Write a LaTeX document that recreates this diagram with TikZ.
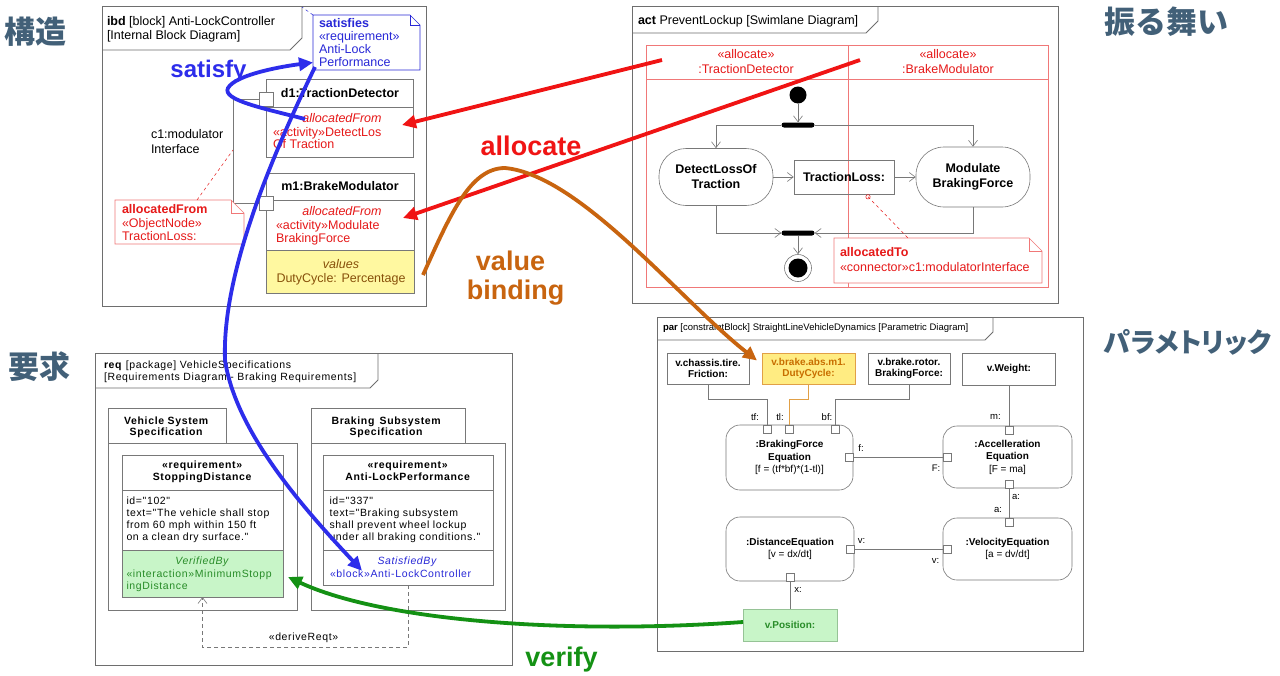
\documentclass[tikz,border=0pt]{standalone}
\usepackage{fontspec}
\setmainfont{Liberation Sans}
\newfontfamily\cjkfont{Noto Sans CJK JP}
\newfontfamily\cjkpfont{Noto Sans CJK JP}[RawFeature=+palt]
\newfontfamily\reqfont{Liberation Sans}[LetterSpace=6]
\usetikzlibrary{arrows.meta,calc}
\definecolor{lg}{RGB}{120,120,120}
\definecolor{fr}{RGB}{110,110,110}
\definecolor{ured}{RGB}{230,25,25}
\definecolor{lanered}{RGB}{240,120,120}
\definecolor{ublue}{RGB}{40,40,215}
\definecolor{ablue}{RGB}{45,45,235}
\definecolor{ared}{RGB}{240,20,20}
\definecolor{aorange}{RGB}{200,100,15}
\definecolor{agreen}{RGB}{20,145,20}
\definecolor{tgreen}{RGB}{40,140,40}
\definecolor{fgreen}{RGB}{200,245,200}
\definecolor{lgreen}{RGB}{150,195,150}
\definecolor{fyellow}{RGB}{255,248,160}
\definecolor{tbrown}{RGB}{135,80,10}
\definecolor{dutyfill}{RGB}{255,236,130}
\definecolor{dutyline}{RGB}{225,160,70}
\definecolor{dutytext}{RGB}{200,110,0}
\definecolor{slate}{RGB}{66,96,120}
\newcommand\dogear[3]{%
  \draw[fill=white,#2] (#1.north west) -- ($(#1.north east)+(-#3,0)$) -- ($(#1.north east)+(0,#3)$) -- (#1.south east) -- (#1.south west) -- cycle;
  \draw[#2] ($(#1.north east)+(-#3,0)$) -- ($(#1.north east)+(-#3,#3)$) -- ($(#1.north east)+(0,#3)$);}
\begin{document}
\begin{tikzpicture}[x=1pt,y=-1pt,
  fs/.style 2 args={font=\fontsize{#1}{#2}\selectfont},
  rfs/.style 2 args={font=\reqfont\fontsize{#1}{#2}\selectfont},
  txt/.style={inner sep=0pt,outer sep=0pt},
  frame/.style={draw=fr,line width=0.8pt},
  box/.style={draw=lg,line width=0.6pt,inner sep=0pt,outer sep=0pt},
  conn/.style={draw=lg,line width=0.6pt},
  port/.style={draw=lg,line width=0.6pt,fill=white,minimum size=8pt,inner sep=0pt,outer sep=0pt},
  bigport/.style={port,minimum size=14pt},
  flow/.style={draw=lg,line width=0.6pt,-{Straight Barb[length=6pt,width=9pt]}},
  lane/.style={draw=lanered,line width=0.5pt},
  big/.style={line width=3.8pt,-{Triangle[length=14pt,width=13pt]}},
  pbox/.style={box,fs={10}{11},align=center,minimum width=82pt,minimum height=31pt},
  eq/.style={box,rounded corners=14pt,fs={10}{12.5},align=center},
  action/.style={draw=lg,line width=0.6pt,inner sep=0pt,fs={12.5}{15},align=center},
  big label/.style={txt,text=slate,font=\cjkfont\fontsize{31}{31}\selectfont\bfseries},
]
\fill[white] (0,0) rectangle (1280,675);
\useasboundingbox (0,0) rectangle (1280,675);

% ---------- big category labels ----------
\node[big label] (lstruct) at (36,32) {構造};
\node[big label] (lreq) at (40,367) {要求};
\node[big label] (lbeh) at (1166,22) {振る舞い};
\node[big label,font=\cjkpfont\fontsize{27}{27}\selectfont\bfseries] (lpar) at (1188,342) {パラメトリック};

% ---------- ibd ----------
\draw[frame] (102,6) rectangle (426,306);
\draw[frame] (102,50) -- (290,50) -- (302,38) -- (302,6);
\node[txt,fs={12.5}{14},anchor=base west] (ibdt1) at (107,25) {\textbf{ibd} [block] Anti-LockController};
\node[txt,fs={12.5}{14},anchor=base west] (ibdt2) at (107,39) {[Internal Block Diagram]};

\node[box,draw=none,anchor=north west,minimum width=107pt,minimum height=55pt] (satnote) at (313,15) {};
\dogear{satnote}{draw=ublue,line width=0.6pt}{10}
\coordinate (satanchor) at (302,7);
\draw[ublue,dashed,line width=0.5pt] (satnote.north west) -- (satanchor);
\node[txt,fs={12.5}{14},text=ublue,anchor=base west] (sat1) at (319,27) {\textbf{satisfies}};
\node[txt,fs={12.5}{14},text=ublue,anchor=base west] (sat2) at (319,40) {«requirement»};
\node[txt,fs={12.5}{14},text=ublue,anchor=base west] (sat3) at (319,53) {Anti-Lock};
\node[txt,fs={12.5}{14},text=ublue,anchor=base west] (sat4) at (319,66) {Performance};

\node[box,anchor=north west,minimum width=147pt,minimum height=78pt] (d1) at (266,79) {};
\draw[conn] (266,107) -- (413,107);
\node[txt,fs={12.5}{14},anchor=base] (d1h) at (340,97) {\textbf{d1:TractionDetector}};
\node[txt,fs={12.5}{14},text=ured,anchor=base] (d1a) at (342,122.5) {\textit{allocatedFrom}};
\node[txt,fs={12.5}{14},text=ured,anchor=base west] (d1b) at (273,136) {«activity»DetectLos};
\node[txt,fs={12.5}{14},text=ured,anchor=base west] (d1c) at (273,148.5) {Of Traction};

\fill[fyellow] (266,250) rectangle (414,293);
\node[box,anchor=north west,minimum width=148pt,minimum height=120pt] (m1) at (266,173) {};
\draw[conn] (266,200) -- (414,200);
\draw[conn] (266,250) -- (414,250);
\node[txt,fs={12.5}{14},anchor=base] (m1h) at (340,190) {\textbf{m1:BrakeModulator}};
\node[txt,fs={12.5}{14},text=ured,anchor=base] (m1a) at (342,215.5) {\textit{allocatedFrom}};
\node[txt,fs={12.5}{14},text=ured,anchor=base west] (m1b) at (276,229) {«activity»Modulate};
\node[txt,fs={12.5}{14},text=ured,anchor=base west] (m1c) at (276,242) {BrakingForce};
\node[txt,fs={12.5}{14},text=tbrown,anchor=base] (m1d) at (341,268) {\textit{values}};
\node[txt,fs={12.5}{14},text=tbrown,anchor=base] (m1e) at (341,282) {DutyCycle: Percentage};

\node[bigport] (pd1) at (266,99) {};
\node[bigport] (pm1) at (266,203) {};
\draw[conn] (pd1.west) -- ++(-26,0) |- (pm1.west);
\coordinate (c1mid) at (233,150);
\node[txt,fs={12.5}{14},anchor=base west] (c1a) at (151,138) {c1:modulator};
\node[txt,fs={12.5}{14},anchor=base west] (c1b) at (151,153) {Interface};

\node[box,draw=none,anchor=north west,minimum width=129pt,minimum height=44pt] (afnote) at (115,200) {};
\dogear{afnote}{draw=lanered,line width=0.6pt}{13}
\draw[ured,dashed,line width=0.5pt] ($(afnote.north west)+(82,0)$) -- (c1mid);
\node[txt,fs={12.5}{14},text=ured,anchor=base west] (af1) at (122,213) {\textbf{allocatedFrom}};
\node[txt,fs={12.5}{14},text=ured,anchor=base west] (af2) at (122,227) {«ObjectNode»};
\node[txt,fs={12.5}{14},text=ured,anchor=base west] (af3) at (122,240) {TractionLoss:};

% ---------- act ----------
\draw[frame] (632,6) rectangle (1058,303);
\draw[frame] (632,33) -- (866,33) -- (878,21) -- (878,6);
\node[txt,fs={12.5}{14},anchor=base west] (actt) at (638,24) {\textbf{act} PreventLockup [Swimlane Diagram]};
\draw[lane] (646,45) rectangle (1048,287);
\draw[lane] (646,79) -- (1048,79);
\draw[lane] (848,45) -- (848,287);
\node[txt,fs={12.5}{14},text=ured,anchor=base] (la1) at (746,58) {«allocate»};
\node[txt,fs={12.5}{14},text=ured,anchor=base] (la2) at (746,73.5) {:TractionDetector};
\node[txt,fs={12.5}{14},text=ured,anchor=base] (lb1) at (948,58) {«allocate»};
\node[txt,fs={12.5}{14},text=ured,anchor=base] (lb2) at (948,73.5) {:BrakeModulator};

\node[circle,fill=black,minimum size=17pt,inner sep=0pt] (init) at (798,95) {};
\node[fill=black,minimum width=33pt,minimum height=5pt,inner sep=0pt,rounded corners=2.5pt] (fork) at (798,125) {};
\node[action,rounded corners=27pt,minimum width=114pt,minimum height=57pt] (detect) at (716,177) {\textbf{DetectLossOf}\\\textbf{Traction}};
\node[action,minimum width=100pt,minimum height=34pt] (tloss) at (844,177) {\textbf{TractionLoss:}};
\node[action,rounded corners=28pt,minimum width=114pt,minimum height=60pt] (modul) at (973,177) {\textbf{Modulate}\\\textbf{BrakingForce}};
\node[fill=black,minimum width=33pt,minimum height=5pt,inner sep=0pt,rounded corners=2.5pt] (join) at (798,233) {};
\node[circle,draw=lg,line width=0.6pt,fill=white,minimum size=27pt,inner sep=0pt] (final) at (798,268) {};
\node[circle,fill=black,minimum size=19pt,inner sep=0pt] (finalin) at (final.center) {};
\draw[flow] (init) -- (fork);
\draw[flow] (fork.west) -| (detect.north);
\draw[flow] (fork.east) -| (modul.north);
\draw[flow] (detect) -- (tloss);
\draw[flow] (tloss) -- (modul);
\draw[flow] (detect.south) |- (join.west);
\draw[flow] (modul.south) |- (join.east);
\draw[flow] (join) -- (final);

\node[box,draw=none,anchor=north west,minimum width=208pt,minimum height=45pt] (atnote) at (834,238) {};
\dogear{atnote}{draw=lanered,line width=0.6pt}{13}
\coordinate (tlp) at ($(tloss.south)+(24,2.5)$);
\draw[ured,line width=0.5pt] (tlp) circle (2.2pt);
\draw[ured,dashed,line width=0.5pt] (tlp) -- ($(atnote.north west)+(74,0)$);
\node[txt,fs={12.5}{14},text=ured,anchor=base west] (at1) at (840,256.5) {\textbf{allocatedTo}};
\node[txt,fs={12.5}{14},text=ured,anchor=base west] (at2) at (840,271) {«connector»c1:modulatorInterface};

% ---------- par ----------
\draw[frame] (657,317) rectangle (1083,651);
\draw[frame] (657,340) -- (985,340) -- (993,332) -- (993,317);
\node[txt,fs={9.5}{11},anchor=base west] (part) at (663,330) {\textbf{par} [constraintBlock] StraightLineVehicleDynamics [Parametric Diagram]};

\node[pbox] (fric) at (708,368.5) {\textbf{v.chassis.tire.}\\\textbf{Friction:}};
\node[pbox,minimum width=93pt,fill=dutyfill,draw=dutyline,text=dutytext] (duty) at (808.5,368.5) {\textbf{v.brake.abs.m1.}\\\textbf{DutyCycle:}};
\node[pbox] (rotor) at (909,368.5) {\textbf{v.brake.rotor.}\\\textbf{BrakingForce:}};
\node[pbox,minimum width=93pt,minimum height=32pt] (weight) at (1009,369) {\textbf{v.Weight:}};

\node[eq,minimum width=127pt,minimum height=65pt] (bfe) at (789.5,457.5) {\textbf{:BrakingForce}\\\textbf{Equation}\\{}[f = (tf*bf)*(1-tl)]};
\node[eq,minimum width=129pt,minimum height=62pt] (acc) at (1007.5,457) {\textbf{:Accelleration}\\\textbf{Equation}\\{}[F = ma]};
\node[eq,minimum width=129pt,minimum height=62pt] (vel) at (1007.5,549) {\textbf{:VelocityEquation}\\{}[a = dv/dt]};
\node[eq,minimum width=128pt,minimum height=64pt] (dist) at (790,549) {\textbf{:DistanceEquation}\\{}[v = dx/dt]};
\node[pbox,minimum width=94pt,minimum height=32pt,fill=fgreen,draw=lgreen,text=tgreen] (pos) at (790,625) {\textbf{v.Position:}};

\node[port] (ptf) at (767,429) {};
\node[port] (ptl) at (789,429) {};
\node[port] (pbf) at (835,429) {};
\node[port] (pf) at (849,457) {};
\node[port] (pF) at (947.5,457) {};
\node[port] (pm) at (1009,430) {};
\node[port] (pa1) at (1009,484) {};
\node[port] (pa2) at (1009,522) {};
\node[port] (pv2) at (947.5,549.5) {};
\node[port] (pv1) at (850,549.5) {};
\node[port] (px) at (790,577) {};

\draw[conn] (fric.south) -- ++(0,15) -| (ptf.north);
\draw[conn,draw=dutyline] (duty.south) -- ++(0,15) -| (ptl.north);
\draw[conn] (rotor.south) -- ++(0,15) -| (pbf.north);
\draw[conn] (pf.east) -- (pF.west);
\draw[conn] (weight.south) -- (pm.north);
\draw[conn] (pa1.south) -- (pa2.north);
\draw[conn] (pv1.east) -- (pv2.west);
\draw[conn] (px.south) -- (pos.north);

\node[txt,fs={9.5}{11}] (ltf) at (755,417) {tf:};
\node[txt,fs={9.5}{11}] (ltl) at (780,417) {tl:};
\node[txt,fs={9.5}{11}] (lbf) at (827,417) {bf:};
\node[txt,fs={9.5}{11}] (lf) at (861,448) {f:};
\node[txt,fs={9.5}{11}] (lF) at (936,468) {F:};
\node[txt,fs={9.5}{11}] (lm) at (995.5,417) {m:};
\node[txt,fs={9.5}{11}] (la1p) at (1016,497) {a:};
\node[txt,fs={9.5}{11}] (la2p) at (998,510) {a:};
\node[txt,fs={9.5}{11}] (lv1) at (861.5,540.5) {v:};
\node[txt,fs={9.5}{11}] (lv2) at (935.5,561) {v:};
\node[txt,fs={9.5}{11}] (lx) at (798,589.5) {x:};

% ---------- req ----------
\draw[frame] (95,353) rectangle (512,665);
\draw[frame] (95,388) -- (370,388) -- (378,380) -- (378,353);
\node[txt,rfs={10.5}{12},anchor=base west] (reqt1) at (104,368) {\textbf{req} [package] VehicleSpecifications};
\node[txt,rfs={10.5}{12},anchor=base west] (reqt2) at (104,380.5) {[Requirements Diagram - Braking Requirements]};

\node[box,anchor=north west,minimum width=118pt,minimum height=35pt] (vstab) at (108,408) {};
\node[box,anchor=north west,minimum width=189pt,minimum height=167pt] (vsbody) at (108,443) {};
\node[txt,rfs={10.5}{12},anchor=base] (vs1) at (166.5,424) {\textbf{Vehicle System}};
\node[txt,rfs={10.5}{12},anchor=base] (vs2) at (166.5,435) {\textbf{Specification}};

\fill[fgreen] (122,550) rectangle (283,597);
\node[box,anchor=north west,minimum width=161pt,minimum height=142pt] (stop) at (122,455) {};
\draw[conn] (122,490) -- (283,490);
\draw[conn] (122,550) -- (283,550);
\node[txt,rfs={10.5}{12},anchor=base] (st1) at (202.5,468.5) {\textbf{«requirement»}};
\node[txt,rfs={10.5}{12},anchor=base] (st2) at (202.5,480.5) {\textbf{StoppingDistance}};
\node[txt,rfs={10.5}{12},anchor=base west] (st3) at (126.5,504) {id="102"};
\node[txt,rfs={10.5}{12},anchor=base west] (st4) at (126.5,516.5) {text="The vehicle shall stop};
\node[txt,rfs={10.5}{12},anchor=base west] (st5) at (126.5,528.5) {from 60 mph within 150 ft};
\node[txt,rfs={10.5}{12},anchor=base west] (st6) at (126.5,540) {on a clean dry surface."};
\node[txt,rfs={10.5}{12},text=tgreen,anchor=base] (st7) at (202.5,564.5) {\textit{VerifiedBy}};
\node[txt,rfs={10.5}{12},text=tgreen,anchor=base west] (st8) at (126.5,577.5) {«interaction»MinimumStopp};
\node[txt,rfs={10.5}{12},text=tgreen,anchor=base west] (st9) at (126.5,589) {ingDistance};

\node[box,anchor=north west,minimum width=154pt,minimum height=35pt] (bstab) at (311,408) {};
\node[box,anchor=north west,minimum width=194pt,minimum height=167pt] (bsbody) at (311,443) {};
\node[txt,rfs={10.5}{12},anchor=base] (bs1) at (386.5,424) {\textbf{Braking\, Subsystem}};
\node[txt,rfs={10.5}{12},anchor=base] (bs2) at (386.5,435) {\textbf{Specification}};

\node[box,anchor=north west,minimum width=170pt,minimum height=130pt] (alp) at (323,455) {};
\draw[conn] (323,490) -- (493,490);
\draw[conn] (323,550) -- (493,550);
\node[txt,rfs={10.5}{12},anchor=base] (al1) at (408,468.5) {\textbf{«requirement»}};
\node[txt,rfs={10.5}{12},anchor=base] (al2) at (408,480.5) {\textbf{Anti-LockPerformance}};
\node[txt,rfs={10.5}{12},anchor=base west] (al3) at (329.5,504) {id="337"};
\node[txt,rfs={10.5}{12},anchor=base west] (al4) at (329.5,516.5) {text="Braking subsystem};
\node[txt,rfs={10.5}{12},anchor=base west] (al5) at (329.5,528.5) {shall prevent wheel lockup};
\node[txt,rfs={10.5}{12},anchor=base west] (al6) at (329.5,540) {under all braking conditions."};
\node[txt,rfs={10.5}{12},text=ublue,anchor=base] (al7) at (407.5,564.5) {\textit{SatisfiedBy}};
\node[txt,rfs={10.5}{12},text=ublue,anchor=base west] (al8) at (330,577.5) {«block»Anti-LockController};

\draw[conn,dash pattern=on 4pt off 3pt,-{Straight Barb[length=6pt,width=9pt]}] (alp.south) -- ++(0,62) -| (stop.south);
\node[txt,rfs={10.5}{12}] (drl) at (303.5,638) {«deriveReqt»};

% ---------- colored labels ----------
\node[txt,text=ablue,font=\bfseries\fontsize{24}{24}\selectfont] (lsat) at (208.5,71) {satisfy};
\node[txt,text=ared,font=\bfseries\fontsize{27}{27}\selectfont] (lalloc) at (531,146) {allocate};
\node[txt,text=aorange,font=\bfseries\fontsize{27}{27}\selectfont] (lval) at (510.5,261) {value};
\node[txt,text=aorange,font=\bfseries\fontsize{27}{27}\selectfont] (lbind) at (515.5,293) {binding};
\node[txt,text=agreen,font=\bfseries\fontsize{27}{27}\selectfont] (lver) at (561.5,660) {verify};

% ---------- big arrows ----------
\coordinate (satloopS) at ($(d1.north west)+(39,40)$);
\coordinate (satnoteL) at ($(satnote.west)+(0,20)$);
\draw[big,ablue] (satloopS) .. controls (262,108) and (222,100) .. (228,88) .. controls (236,74) and (285,66) .. (satnoteL);
\coordinate (satB) at ($(satnote.south west)+(2,-3)$);
\coordinate (alctip) at ($(al8.west)+(32,-3)$);
\draw[big,ablue] (satB) .. controls (265,170) and (222,280) .. (225,360) .. controls (236,435) and (310,515) .. (alctip);

\coordinate (r1s) at (662,60);
\coordinate (r1e) at ($(d1.east)+(-11,7)$);
\draw[big,ared] (r1s) -- (r1e);
\coordinate (r2s) at (860,60);
\coordinate (r2e) at ($(m1.east)+(-11,-15)$);
\draw[big,ared] (r2s) -- (r2e);

\coordinate (vbS) at ($(m1.south east)+(9,-18)$);
\coordinate (vbE) at ($(duty.west)+(-5,-8)$);
\draw[big,aorange] (vbS) .. controls (450,215) and (470,168) .. (505,168) .. controls (580,175) and (680,300) .. (vbE);

\coordinate (vfS) at ($(pos.west)+(0,-3)$);
\coordinate (vfE) at ($(stop.south east)+(5,-20)$);
\draw[big,agreen] (vfS) .. controls (560,635) and (380,620) .. (vfE);
\end{tikzpicture}
\end{document}
